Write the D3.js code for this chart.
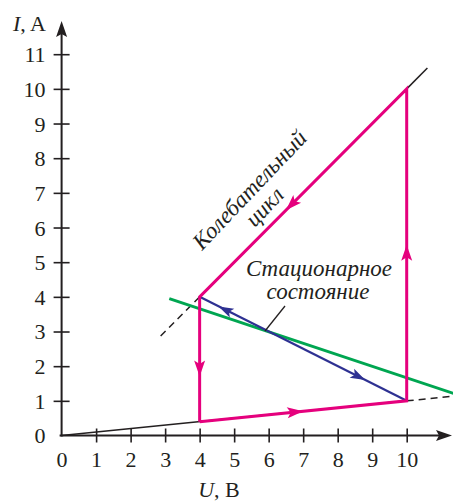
<!DOCTYPE html>
<html><head><meta charset="utf-8">
<script src="https://cdn.jsdelivr.net/npm/d3@7"></script>
<style>
html,body{margin:0;padding:0;background:#fff;}
svg text{font-family:"Liberation Serif","DejaVu Serif",serif;fill:#231f20;}
</style></head>
<body><svg id="c" width="453" height="501"></svg>
<script>
// ---- data ----
const uTicks = [0,1,2,3,4,5,6,7,8,9,10];
const iTicks = [0,1,2,3,4,5,6,7,8,9,10,11];
// ohmic (low-current) branch I = 0.1 U
const lowU = [0, 10], lowI = [0, 1.0];
const lowDashU = [10, 11.4], lowDashI = [1.0, 1.14];
// high-current branch I = U
const highDashU = [2.87, 4], highDashI = [2.87, 4];
const highExtU = [10, 10.6], highExtI = [10, 10.6];
// oscillation cycle (pink)
const cycleU = [4, 10, 10, 4, 4];
const cycleI = [0.4, 1.0, 10, 4, 0.4];
// load line (green)
const loadU = [3.12, 11.4], loadI = [3.95, 1.2];
// trajectory to stationary state (blue)
const trajU = [4, 10], trajI = [4, 1];
// arrow heads: tip position and direction (from point)
const pinkArrows = [
  {u:7.0, i:0.70, fu:4, fi:0.4},
  {u:10, i:5.5, fu:10, fi:1},
  {u:6.5, i:6.5, fu:10, fi:10},
  {u:4, i:1.7, fu:4, fi:4}
];
const blueArrows = [
  {u:4.55, i:3.725, fu:6, fi:3},
  {u:8.8, i:1.6, fu:6, fi:3}
];

const svg = d3.select("#c");
const x = d3.scaleLinear().domain([0,10]).range([61.6, 406.7]);
const y = d3.scaleLinear().domain([0,11]).range([435.5, 54.2]);
const line = d3.line().x(d=>x(d[0])).y(d=>y(d[1]));
const zip = (a,b)=>a.map((v,k)=>[v,b[k]]);

const PINK="#e5007d", BLUE="#2e3192", GREEN="#00a651", BLACK="#231f20";

// axes
const xAxis = d3.axisBottom(x).tickValues(uTicks).tickSize(0).tickPadding(16).tickFormat(d3.format("d"));
const gx = svg.append("g").attr("transform",`translate(0,${y(0)})`).call(xAxis);
gx.select(".domain").remove();
gx.selectAll(".tick").filter(d=>d>0).append("line").attr("y1",-7).attr("y2",7).attr("stroke",BLACK).attr("stroke-width",1.6);
gx.selectAll("text").attr("font-size",22).attr("fill",BLACK).attr("dy","0.72em");

const yAxis = d3.axisLeft(y).tickValues(iTicks).tickSize(0).tickPadding(16).tickFormat(d3.format("d"));
const gy = svg.append("g").attr("transform",`translate(${x(0)},0)`).call(yAxis);
gy.select(".domain").remove();
gy.selectAll(".tick").filter(d=>d>0).append("line").attr("x1",-8).attr("x2",8).attr("stroke",BLACK).attr("stroke-width",1.6);
gy.selectAll("text").attr("font-size",22).attr("fill",BLACK).attr("dy","0.34em");

// axis lines with arrows
svg.append("line").attr("x1",x(0)-2).attr("x2",445).attr("y1",y(0)).attr("y2",y(0)).attr("stroke",BLACK).attr("stroke-width",2);
svg.append("line").attr("x1",x(0)).attr("x2",x(0)).attr("y1",y(0)+1).attr("y2",28).attr("stroke",BLACK).attr("stroke-width",2);
svg.append("path").attr("d",`M452,${y(0)} L436,${y(0)-5.5} L439,${y(0)} L436,${y(0)+5.5}Z`).attr("fill",BLACK);
svg.append("path").attr("d",`M${x(0)},21 L${x(0)-5.5},37 L${x(0)},34 L${x(0)+5.5},37Z`).attr("fill",BLACK);

// axis titles
const tI = svg.append("text").attr("x",46).attr("y",31).attr("text-anchor","end").attr("font-size",22);
tI.append("tspan").attr("font-style","italic").text("I");
tI.append("tspan").text(", A");
const tU = svg.append("text").attr("x",219).attr("y",497).attr("text-anchor","middle").attr("font-size",22);
tU.append("tspan").attr("font-style","italic").text("U");
tU.append("tspan").text(", B");

// black branches
svg.append("path").attr("d",line(zip(lowU,lowI))).attr("fill","none").attr("stroke",BLACK).attr("stroke-width",1.5);
svg.append("path").attr("d",line(zip(lowDashU,lowDashI))).attr("fill","none").attr("stroke",BLACK).attr("stroke-width",1.5).attr("stroke-dasharray","7,5");
svg.append("path").attr("d",line(zip(highDashU,highDashI))).attr("fill","none").attr("stroke",BLACK).attr("stroke-width",1.5).attr("stroke-dasharray","7,5");
svg.append("path").attr("d",line(zip(highExtU,highExtI))).attr("fill","none").attr("stroke",BLACK).attr("stroke-width",1.5);

// green load line
svg.append("path").attr("d",line(zip(loadU,loadI))).attr("fill","none").attr("stroke",GREEN).attr("stroke-width",3);
// blue trajectory
svg.append("path").attr("d",line(zip(trajU,trajI))).attr("fill","none").attr("stroke",BLUE).attr("stroke-width",2.2);
// pink cycle
svg.append("path").attr("d",line(zip(cycleU,cycleI))).attr("fill","none").attr("stroke",PINK).attr("stroke-width",3).attr("stroke-linejoin","miter");

function arrow(a,color,len,hw){
  const tx=x(a.u), ty=y(a.i), fx=x(a.fu), fy=y(a.fi);
  const dx=tx-fx, dy=ty-fy, L=Math.hypot(dx,dy);
  const ux=dx/L, uy=dy/L, px=-uy, py=ux;
  const bx=tx-ux*len, by=ty-uy*len;
  const nx=tx-ux*len*0.78, ny=ty-uy*len*0.78;
  svg.append("path").attr("d",`M${tx},${ty} L${bx+px*hw},${by+py*hw} L${nx},${ny} L${bx-px*hw},${by-py*hw}Z`).attr("fill",color);
}
pinkArrows.forEach(a=>arrow(a,PINK,16,5.5));
blueArrows.forEach(a=>arrow(a,BLUE,15,5));

// annotations
svg.append("text").attr("transform","translate(255,195) rotate(-46.5)").attr("text-anchor","middle")
  .attr("font-style","italic").attr("font-size",23).text("Колебательный");
svg.append("text").attr("transform","translate(270,212) rotate(-46.5)").attr("text-anchor","middle")
  .attr("font-style","italic").attr("font-size",23).text("цикл");
svg.append("text").attr("x",319).attr("y",276).attr("text-anchor","middle").attr("font-style","italic").attr("font-size",23).text("Стационарное");
svg.append("text").attr("x",318).attr("y",299).attr("text-anchor","middle").attr("font-style","italic").attr("font-size",23).text("состояние");
svg.append("line").attr("x1",265).attr("y1",331).attr("x2",285).attr("y2",306).attr("stroke",BLACK).attr("stroke-width",1.3);
</script></body></html>
